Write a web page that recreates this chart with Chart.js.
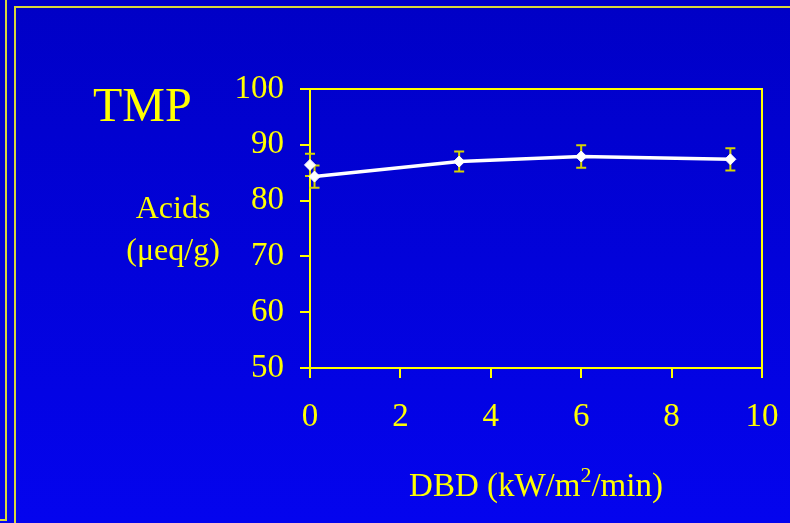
<!DOCTYPE html>
<html>
<head>
<meta charset="utf-8">
<script src="https://cdn.jsdelivr.net/npm/chart.js@4"></script>
<style>
  html, body { margin: 0; padding: 0; }
  body { width: 790px; height: 523px; overflow: hidden; }
  #wrap { position: relative; width: 790px; height: 523px; }
</style>
</head>
<body>
<div id="wrap"><canvas id="chart" width="790" height="523"></canvas></div>
<script>
// DBD treated samples
const dbdDose = [0.1, 3.3, 6.0, 9.3]
const acids = [84.3, 87.0, 87.9, 87.4]
const acidsErr = [2.0, 1.8, 2.0, 2.0]

// untreated control
const controlDose = [0]
const controlAcids = [86.4]
const controlErr = [2.0]

const xTicks = [0, 2, 4, 6, 8, 10]
const yTicks = [50, 60, 70, 80, 90, 100]

const YELLOW = '#ffff00'
const FONT = "'Liberation Serif', 'Times New Roman', serif"

// blue slide background + the yellow frame lines
const slideBackground = {
  id: 'slideBackground',
  beforeDraw(chart) {
    const ctx = chart.ctx
    const g = ctx.createLinearGradient(0, 0, 0, chart.height)
    g.addColorStop(0, '#0000c6')
    g.addColorStop(1, '#0404ee')
    ctx.save()
    ctx.fillStyle = g
    ctx.fillRect(0, 0, chart.width, chart.height)

    ctx.strokeStyle = '#d8d83a'
    ctx.lineWidth = 2
    ctx.beginPath()
    ctx.moveTo(6, 0)
    ctx.lineTo(6, 520)
    ctx.lineTo(0, 520)
    ctx.moveTo(15, chart.height)
    ctx.lineTo(15, 7)
    ctx.lineTo(chart.width, 7)
    ctx.stroke()
    ctx.restore()
  }
}

// vertical error bars, drawn under the markers
const errorBars = {
  id: 'errorBars',
  beforeDatasetsDraw(chart) {
    const ctx = chart.ctx
    const x = chart.scales.x
    const y = chart.scales.y
    const sets = [[dbdDose, acids, acidsErr], [controlDose, controlAcids, controlErr]]
    ctx.save()
    ctx.strokeStyle = '#d6d600'
    ctx.lineWidth = 2
    sets.forEach(([xs, ys, es]) => {
      xs.forEach((v, i) => {
        const px = x.getPixelForValue(v)
        const top = y.getPixelForValue(ys[i] + es[i])
        const bot = y.getPixelForValue(ys[i] - es[i])
        ctx.beginPath()
        ctx.moveTo(px, top)
        ctx.lineTo(px, bot)
        ctx.moveTo(px - 5, top)
        ctx.lineTo(px + 5, top)
        ctx.moveTo(px - 5, bot)
        ctx.lineTo(px + 5, bot)
        ctx.stroke()
      })
    })
    ctx.restore()
  }
}

// plot frame, title, axis labels
const slideText = {
  id: 'slideText',
  afterDraw(chart) {
    const ctx = chart.ctx
    const a = chart.chartArea
    ctx.save()
    ctx.strokeStyle = YELLOW
    ctx.lineWidth = 2
    ctx.beginPath()
    ctx.moveTo(a.left, a.top)
    ctx.lineTo(a.right, a.top)
    ctx.lineTo(a.right, a.bottom)
    ctx.stroke()

    ctx.fillStyle = YELLOW
    ctx.textBaseline = 'alphabetic'
    ctx.textAlign = 'left'
    ctx.font = `48px ${FONT}`
    ctx.fillText('TMP', 93, 121)

    ctx.textAlign = 'center'
    ctx.font = `32px ${FONT}`
    ctx.fillText('Acids', 173, 218)
    ctx.fillText('(μeq/g)', 173, 260)

    // x title with superscript
    const p1 = 'DBD (kW/m', sup = '2', p2 = '/min)'
    ctx.textAlign = 'left'
    ctx.font = `33px ${FONT}`
    const w1 = ctx.measureText(p1).width
    const w3 = ctx.measureText(p2).width
    ctx.font = `22px ${FONT}`
    const w2 = ctx.measureText(sup).width
    const cx = (a.left + a.right) / 2
    const sx = cx - (w1 + w2 + w3) / 2
    ctx.font = `33px ${FONT}`
    ctx.fillText(p1, sx, 496)
    ctx.font = `22px ${FONT}`
    ctx.fillText(sup, sx + w1, 482)
    ctx.font = `33px ${FONT}`
    ctx.fillText(p2, sx + w1 + w2, 496)
    ctx.restore()
  }
}

new Chart(document.getElementById('chart'), {
  type: 'scatter',
  data: {
    datasets: [
      {
        data: dbdDose.map((d, i) => ({ x: d, y: acids[i] })),
        showLine: true,
        borderColor: '#ffffff',
        borderWidth: 3.5,
        pointStyle: 'rectRot',
        pointRadius: 5.5,
        pointBackgroundColor: '#ffffff',
        pointBorderColor: '#ffffff',
        pointBorderWidth: 1
      },
      {
        data: controlDose.map((d, i) => ({ x: d, y: controlAcids[i] })),
        showLine: false,
        pointStyle: 'rectRot',
        pointRadius: 5.5,
        pointBackgroundColor: '#ffffff',
        pointBorderColor: '#ffffff',
        pointBorderWidth: 1
      }
    ]
  },
  options: {
    responsive: false,
    animation: false,
    clip: false,
    layout: { padding: { left: 0, top: 89, right: 28, bottom: 0 } },
    plugins: {
      legend: { display: false },
      tooltip: { enabled: false }
    },
    scales: {
      x: {
        type: 'linear',
        min: 0,
        max: 10,
        afterFit: (s) => { s.height = 155; s.paddingLeft = 0; s.paddingRight = 0 },
        afterBuildTicks: (s) => { s.ticks = xTicks.map(v => ({ value: v })) },
        grid: { drawOnChartArea: false, drawTicks: true, tickLength: 10, color: YELLOW, lineWidth: 2 },
        border: { display: true, color: YELLOW, width: 2 },
        ticks: { color: YELLOW, font: { family: FONT, size: 33 }, padding: 20, maxRotation: 0 }
      },
      y: {
        type: 'linear',
        min: 50,
        max: 100,
        afterFit: (s) => { s.width = 310; s.paddingTop = 0; s.paddingBottom = 0 },
        afterBuildTicks: (s) => { s.ticks = yTicks.map(v => ({ value: v })) },
        grid: { drawOnChartArea: false, drawTicks: true, tickLength: 10, color: YELLOW, lineWidth: 2 },
        border: { display: true, color: YELLOW, width: 2 },
        ticks: { color: YELLOW, font: { family: FONT, size: 33 }, padding: 16 }
      }
    }
  },
  plugins: [slideBackground, errorBars, slideText]
})
</script>
</body>
</html>
